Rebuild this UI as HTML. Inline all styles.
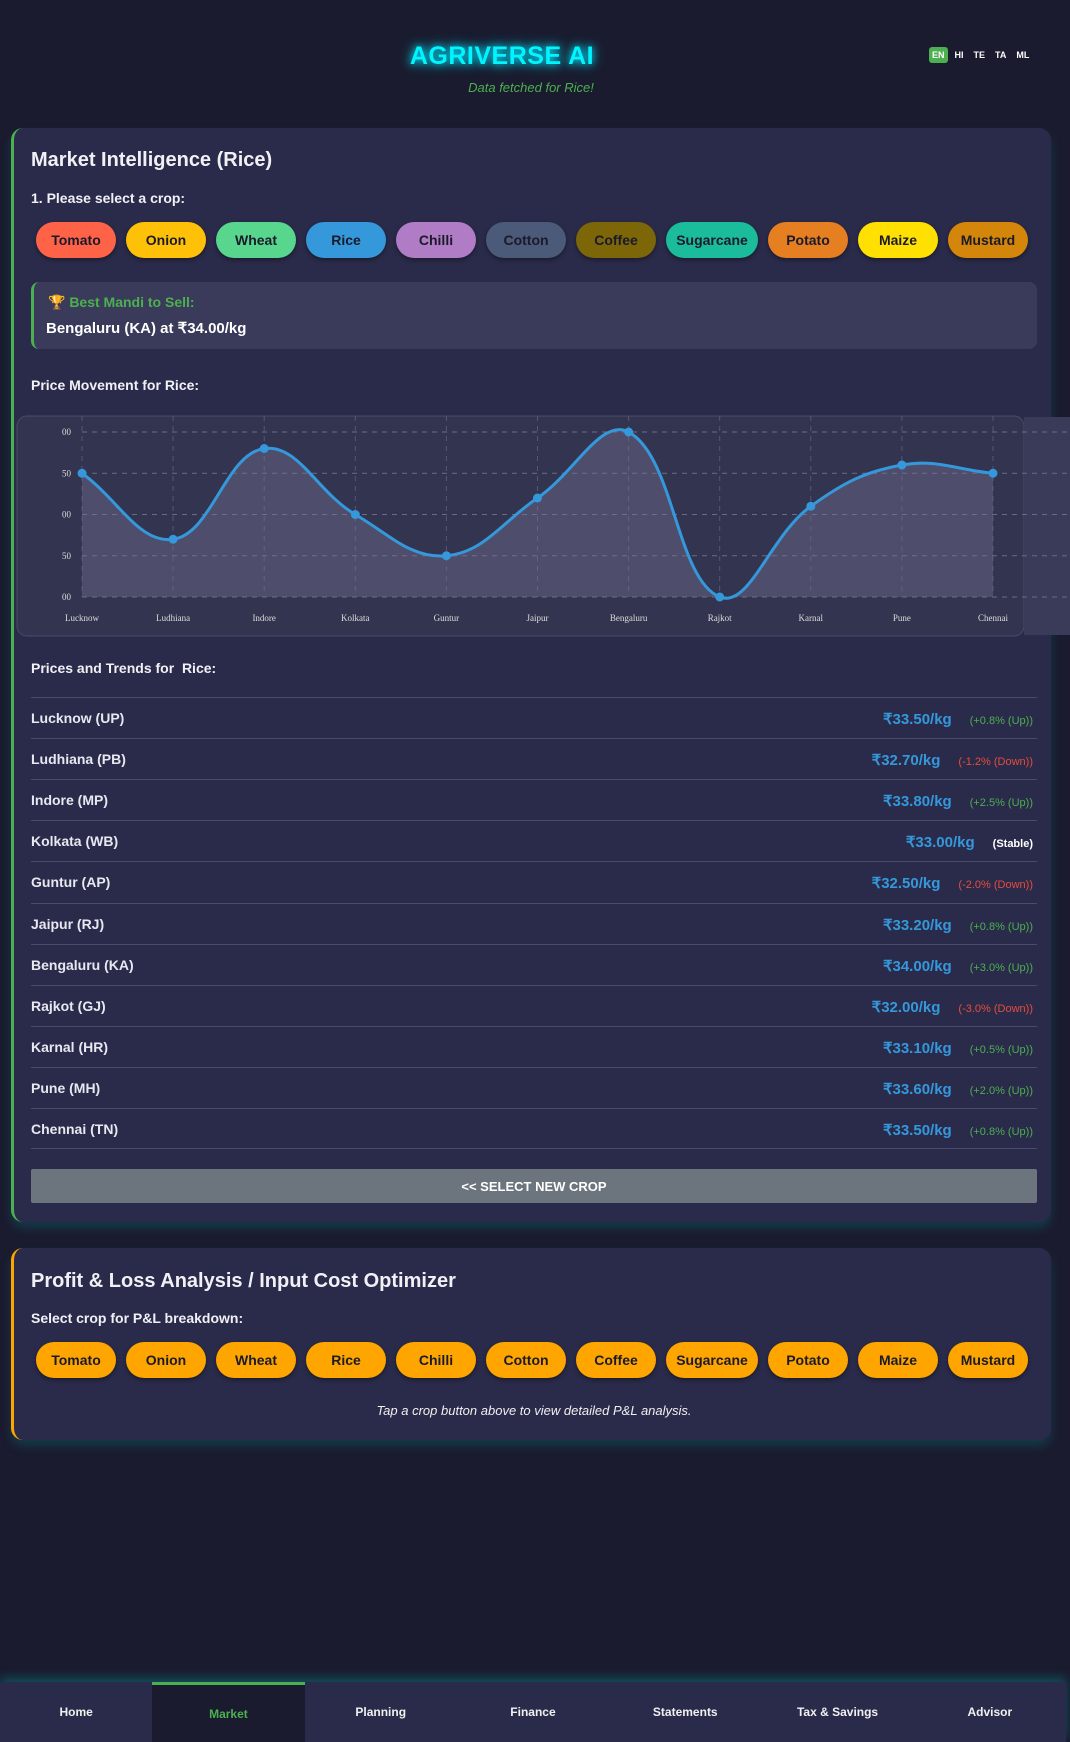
<!DOCTYPE html>
<html><head><meta charset="utf-8"><style>
*{box-sizing:border-box;margin:0;padding:0}
body{width:1070px;height:1742px;background:#1a1b2e;font-family:"Liberation Sans",sans-serif;color:#e8e8f0;position:relative;overflow:hidden}
.abs{position:absolute}
.title{left:0;width:1004px;top:42px;text-align:center;font-size:25px;font-weight:bold;color:#00f5ff;text-shadow:0 0 8px #00e5ff,0 0 14px #00bcd4;letter-spacing:0.5px}
.sub{left:0;width:1062px;top:80px;text-align:center;font-size:13px;font-style:italic;color:#4caf50}
.lang{top:47px;left:929px;display:flex;gap:4px}
.lang span{font-size:9px;font-weight:bold;color:#fff;padding:3px 3px;border-radius:3px}
.lang span.on{background:#4caf50}
.card{left:11px;width:1040px;background:#2a2b4a;border-radius:12px;box-shadow:0 6px 10px rgba(0,150,150,0.25)}
h2{position:absolute;left:17px;font-size:20px;font-weight:bold;color:#f0f0f5}
.lbl{position:absolute;left:17px;font-size:14px;font-weight:bold;color:#f0f0f5}
.crops{position:absolute;left:22px;display:flex;gap:10px}
.crops span{height:36px;border-radius:18px;font-size:14px;font-weight:bold;color:#1a1a2a;display:flex;align-items:center;justify-content:center;box-shadow:0 2px 4px rgba(0,0,0,0.4)}
.row{position:absolute;left:17px;width:1006px;height:41px;border-top:1px solid #4a4b6a;font-size:14px;font-weight:bold}
.row .n{position:absolute;left:0;top:12px}
.row .r{position:absolute;right:4px;top:12px;display:flex;align-items:baseline;gap:18px}
.row .p{color:#3498db;font-size:15px}
.row .t{font-size:11px;font-weight:normal}
.nav{left:0;top:1682px;width:1066px;height:60px;background:#2a2b4a;display:flex;box-shadow:0 -4px 10px rgba(0,180,180,0.35)}
.nav div{flex:1;display:flex;align-items:center;justify-content:center;font-size:12px;font-weight:bold;color:#f0f0f0}
.nav div.on{background:#1a1b2e;color:#4caf50;border-top:3px solid #4caf50}
</style></head><body>
<div class="abs title">AGRIVERSE AI</div>
<div class="abs sub">Data fetched for Rice!</div>
<div class="abs lang">
<span class="on">EN</span><span>HI</span><span>TE</span><span>TA</span><span>ML</span></div>

<div class="abs card" style="top:128px;height:1094px;border-left:3px solid #4caf50">
<h2 style="top:21px">Market Intelligence (Rice)</h2>
<div class="lbl" style="top:62px">1. Please select a crop:</div>
<div class="crops" style="top:94px">
<span style="width:80px;background:#ff6347">Tomato</span>
<span style="width:80px;background:#ffc107">Onion</span>
<span style="width:80px;background:#58d68d">Wheat</span>
<span style="width:80px;background:#3498db">Rice</span>
<span style="width:80px;background:#b07cc6">Chilli</span>
<span style="width:80px;background:#4a5a78">Cotton</span>
<span style="width:80px;background:#7d6608">Coffee</span>
<span style="width:92px;background:#1abc9c">Sugarcane</span>
<span style="width:80px;background:#e67e22">Potato</span>
<span style="width:80px;background:#ffe000">Maize</span>
<span style="width:80px;background:#d4860b">Mustard</span>
</div>
<div class="abs" style="left:17px;top:154px;width:1006px;height:67px;background:#3a3b5a;border-radius:8px;border-left:3px solid #4caf50">
<div class="abs" style="left:14px;top:12px;font-size:14px;font-weight:bold;color:#4caf50">🏆 Best Mandi to Sell:</div>
<div class="abs" style="left:12px;top:37px;font-size:15px;font-weight:bold;color:#fff">Bengaluru (KA) at ₹34.00/kg</div>
</div>
<div class="lbl" style="top:249px">Price Movement for Rice:</div>
<div class="lbl" style="top:532px">Prices and Trends for &nbsp;Rice:</div>
<div id="rows"></div>
<div class="abs" style="left:17px;top:1041px;width:1006px;height:34px;background:#6c757d;display:flex;align-items:center;justify-content:center;font-size:13px;font-weight:bold;color:#fff;border-radius:2px">&lt;&lt; SELECT NEW CROP</div>
</div>

<svg class="abs" style="left:0;top:0" width="1070" height="700">
<rect x="17" y="416" width="1007" height="220" rx="10" fill="#33344f" stroke="#4a4b6a"/>
<rect x="1024" y="417" width="46" height="218" fill="#3a3b58"/>
<g id="chart"></g>
</svg>

<div class="abs card" style="top:1248px;height:192px;border-left:3px solid #ffa500">
<h2 style="top:22px">Profit &amp; Loss Analysis / Input Cost Optimizer</h2>
<div class="lbl" style="top:62px">Select crop for P&amp;L breakdown:</div>
<div class="crops" style="top:94px">
<span style="width:80px;background:#ffa500">Tomato</span>
<span style="width:80px;background:#ffa500">Onion</span>
<span style="width:80px;background:#ffa500">Wheat</span>
<span style="width:80px;background:#ffa500">Rice</span>
<span style="width:80px;background:#ffa500">Chilli</span>
<span style="width:80px;background:#ffa500">Cotton</span>
<span style="width:80px;background:#ffa500">Coffee</span>
<span style="width:92px;background:#ffa500">Sugarcane</span>
<span style="width:80px;background:#ffa500">Potato</span>
<span style="width:80px;background:#ffa500">Maize</span>
<span style="width:80px;background:#ffa500">Mustard</span>
</div>
<div class="abs" style="left:0;width:1040px;top:155px;text-align:center;font-size:13px;font-style:italic;color:#f0f0f0">Tap a crop button above to view detailed P&amp;L analysis.</div>
</div>

<div class="abs nav">
<div>Home</div>
<div class="on">Market</div>
<div>Planning</div>
<div>Finance</div>
<div>Statements</div>
<div>Tax &amp; Savings</div>
<div>Advisor</div>
</div>

<script>
const cities = ["Lucknow","Ludhiana","Indore","Kolkata","Guntur","Jaipur","Bengaluru","Rajkot","Karnal","Pune","Chennai"];
const states = ["UP","PB","MP","WB","AP","RJ","KA","GJ","HR","MH","TN"];
const prices = [33.5,32.7,33.8,33.0,32.5,33.2,34.0,32.0,33.1,33.6,33.5];
const changes = ["+0.8","-1.2","+2.5","0","-2.0","+0.8","+3.0","-3.0","+0.5","+2.0","+0.8"];
const yTicks = [32,32.5,33,33.5,34];
const yTickLabels = ["00","50","00","50","00"];

const NS="http://www.w3.org/2000/svg";
const x0=82,x1=993,yB=597,yT=432,yMin=32,yMax=34;
const xs=i=>x0+i*(x1-x0)/(cities.length-1);
const ys=v=>yB-(v-yMin)/(yMax-yMin)*(yB-yT);
const g=document.getElementById('chart');
function mk(t,a){const e=document.createElementNS(NS,t);for(const k in a)e.setAttribute(k,a[k]);g.appendChild(e);return e;}
yTicks.forEach((v,i)=>{
  const l=mk('line',{x1:x0,x2:1070,y1:ys(v),y2:ys(v),stroke:'#6a6b88','stroke-dasharray':'5 5'});
  
  
  const t=mk('text',{x:62,y:ys(v)+3,fill:'#ddd','font-size':'9','font-family':'Liberation Serif, serif'});
  t.textContent=yTickLabels[i];
  
  
});
cities.forEach((c,i)=>{
  const l=mk('line',{x1:xs(i),x2:xs(i),y1:yT-16,y2:yB,stroke:'#55567a','stroke-dasharray':'5 5'});
  
  
  const t=mk('text',{x:xs(i),y:621,fill:'#ddd','font-size':'9','font-family':'Liberation Serif, serif','text-anchor':'middle'});
  t.textContent=c;
  
  
});
const pts=prices.map((v,i)=>[xs(i),ys(v)]);
const ten=0.4;
let d=`M${pts[0][0]},${pts[0][1]}`;
const cps=pts.map((p,i)=>{
  const pr=pts[i-1]||p,nx=pts[i+1]||p;
  const d01=Math.hypot(p[0]-pr[0],p[1]-pr[1]),d12=Math.hypot(nx[0]-p[0],nx[1]-p[1]);
  const s=d01+d12||1;const fa=ten*d01/s,fb=ten*d12/s;
  return [[p[0]-fa*(nx[0]-pr[0]),p[1]-fa*(nx[1]-pr[1])],[p[0]+fb*(nx[0]-pr[0]),p[1]+fb*(nx[1]-pr[1])]];
});
for(let i=1;i<pts.length;i++){d+=` C${cps[i-1][1][0]},${cps[i-1][1][1]} ${cps[i][0][0]},${cps[i][0][1]} ${pts[i][0]},${pts[i][1]}`;}
const area=mk('path',{d:d+` L${x1},${yB} L${x0},${yB} Z`,fill:'rgba(120,115,150,0.4)'});


const line=mk('path',{d:d,fill:'none',stroke:'#3498db','stroke-width':'3'});


pts.forEach(p=>{
  const c=mk('circle',{cx:p[0],cy:p[1],r:4.5,fill:'#3498db'});
  
  
});
const rows=document.getElementById('rows');
cities.forEach((c,i)=>{
  const r=document.createElement('div');
  r.className='row';r.style.top=(569+i*41.1)+'px';
  if(i==cities.length-1)r.style.borderBottom='1px solid #4a4b6a';
  
  
  const ch=changes[i];let txt,col;
  if(ch==='0'){txt='(Stable)';col='#fff';}
  else if(ch[0]==='+'){txt=`(${ch}% (Up))`;col='#4caf50';}
  else{txt=`(${ch}% (Down))`;col='#e74c3c';}
  r.innerHTML=`<span class="n">${c} (${states[i]})</span><span class="r"><span class="p">₹${prices[i].toFixed(2)}/kg</span><span class="t" style="color:${col};${ch==='0'?'font-weight:bold':''}">${txt}</span></span>`;
  rows.appendChild(r);
});
</script>
</body></html>
